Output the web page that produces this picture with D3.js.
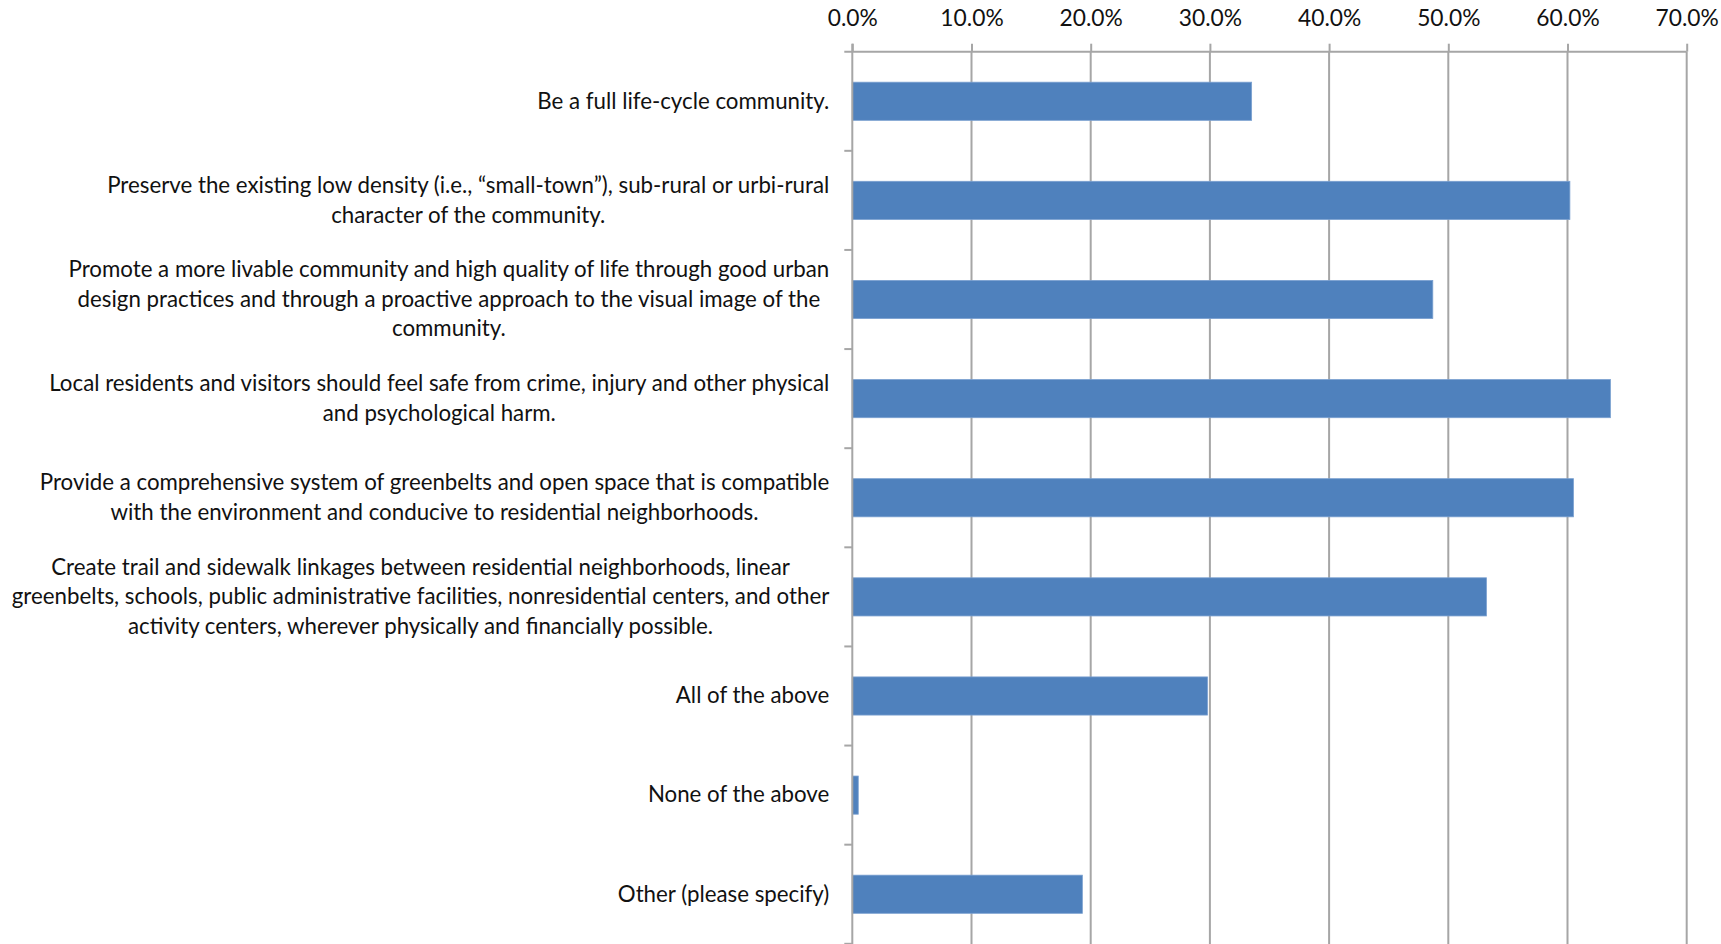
<!DOCTYPE html>
<html>
<head>
<meta charset="utf-8">
<script src="https://cdn.jsdelivr.net/npm/d3@7"></script>
<style>
  html, body { margin: 0; padding: 0; background: #ffffff; }
  svg { display: block; }
</style>
</head>
<body>
<svg id="chart" width="1721" height="944"></svg>
<script>
// ---------- data ----------
const categories = [
  ["Be a full life-cycle community."],
  ["Preserve the existing low density (i.e., \u201Csmall-town\u201D), sub-rural or urbi-rural",
   "character of the community."],
  ["Promote a more livable community and high quality of life through good urban",
   "design practices and through a proactive approach to the visual image of the",
   "community."],
  ["Local residents and visitors should feel safe from crime, injury and other physical",
   "and psychological harm."],
  ["Provide a comprehensive system of greenbelts and open space that is compatible",
   "with the environment and conducive to residential neighborhoods."],
  ["Create trail and sidewalk linkages between residential neighborhoods, linear",
   "greenbelts, schools, public administrative facilities, nonresidential centers, and other",
   "activity centers, wherever physically and financially possible."],
  ["All of the above"],
  ["None of the above"],
  ["Other (please specify)"]
];
const values = [33.5, 60.2, 48.7, 63.6, 60.5, 53.2, 29.8, 0.5, 19.3];
const tickValues = [0, 10, 20, 30, 40, 50, 60, 70];
const tickLabels = ["0.0%", "10.0%", "20.0%", "30.0%", "40.0%", "50.0%", "60.0%", "70.0%"];

// ---------- layout ----------
const W = 1721, H = 944;
const plot = { left: 852.3, right: 1686.7, top: 51.7, bottom: 943.8 };
const barColor = "#4f81bd";
const gridColor = "#a6a6a6";
const textColor = "#111111";
const fontFamily = "Lato, 'Open Sans', sans-serif";

const svg = d3.select("#chart");
svg.append("rect").attr("width", W).attr("height", H).attr("fill", "#fff");

const x = d3.scaleLinear().domain([0, 70]).range([plot.left, plot.right]);
const idx = categories.map((d, i) => i);
const y = d3.scaleBand().domain(idx).range([plot.top, plot.bottom]).padding(0);

// fit font sizes (substitute font for Calibri)
function measure(str, size) {
  const t = svg.append("text").attr("font-family", fontFamily).attr("font-size", size).text(str);
  const w = t.node().getComputedTextLength();
  t.remove();
  return w;
}
const catFont = 100 * 818 / measure(categories[5][1], 100);
const tickFont = 100 * 63.3 / measure("70.0%", 100);

// gridlines
svg.append("g").selectAll("line").data(tickValues.slice(1)).join("line")
  .attr("x1", d => x(d)).attr("x2", d => x(d))
  .attr("y1", plot.top).attr("y2", H)
  .attr("stroke", gridColor).attr("stroke-width", 2);

// top axis
const xAxis = d3.axisTop(x).tickValues(tickValues)
  .tickFormat((d, i) => tickLabels[i]).tickSizeInner(8).tickSizeOuter(0).tickPadding(17.5);
const gx = svg.append("g").attr("transform", `translate(0,${plot.top})`).call(xAxis);
gx.select(".domain").remove();
gx.append("line").attr("x1", plot.left - 8).attr("x2", plot.right)
  .attr("y1", 0).attr("y2", 0).attr("stroke", gridColor).attr("stroke-width", 2);
gx.selectAll(".tick line").attr("stroke", gridColor).attr("stroke-width", 2);
gx.selectAll(".tick text").attr("fill", textColor)
  .attr("font-family", fontFamily).attr("font-size", tickFont);

// bars
const barFrac = 0.385;
svg.append("g").selectAll("rect").data(values).join("rect")
  .attr("x", x(0))
  .attr("y", (d, i) => y(i) + y.bandwidth() * (1 - barFrac) / 2)
  .attr("width", d => x(d) - x(0))
  .attr("height", y.bandwidth() * barFrac)
  .attr("fill", barColor)
  .attr("stroke", "#7aa0d0").attr("stroke-width", 0.8);

// left axis line + ticks
const gy = svg.append("g");
gy.append("line").attr("x1", plot.left).attr("x2", plot.left)
  .attr("y1", plot.top - 8).attr("y2", H)
  .attr("stroke", gridColor).attr("stroke-width", 2);
const boundaries = idx.map(i => y(i) + y.bandwidth());
gy.selectAll("line.t").data(boundaries).join("line").attr("class", "t")
  .attr("x1", plot.left - 8).attr("x2", plot.left)
  .attr("y1", d => d).attr("y2", d => d)
  .attr("stroke", gridColor).attr("stroke-width", 2);

// category labels
const labelRight = 829.3;
const lg = svg.append("g").attr("font-family", fontFamily).attr("font-size", catFont).attr("fill", textColor);
categories.forEach((lines, i) => {
  const widths = lines.map(s => measure(s, catFont));
  const blockW = d3.max(widths);
  const cx = labelRight - blockW / 2;
  const cy = y(i) + y.bandwidth() / 2;
  lines.forEach((s, j) => {
    lg.append("text")
      .attr("x", cx)
      .attr("y", cy + (j - (lines.length - 1) / 2) * 29.6)
      .attr("dy", "0.33em")
      .attr("text-anchor", "middle")
      .text(s);
  });
});
</script>
</body>
</html>
